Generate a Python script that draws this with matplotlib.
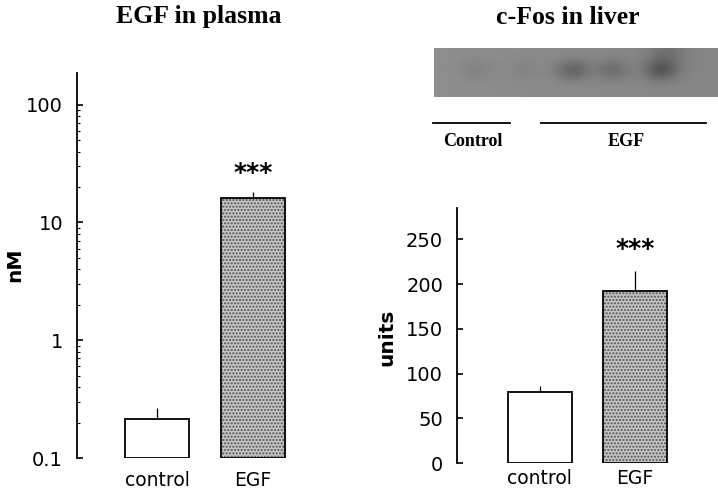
import numpy as np
import matplotlib
matplotlib.use("Agg")
import matplotlib.pyplot as plt
from matplotlib.lines import Line2D
from matplotlib.ticker import LogLocator, NullFormatter, FixedLocator

# ---------------- data ----------------
categories = ["control", "EGF"]
plasma_egf_nM = [0.214, 16.0]
plasma_egf_err = [0.052, 2.3]
plasma_ticks = [0.1, 1, 10, 100]
plasma_ticklabels = ["0.1", "1", "10", "100"]

liver_cfos_units = [79, 192]
liver_cfos_err = [7, 23]
liver_ticks = [0, 50, 100, 150, 200, 250]

# blot lanes (relative position across strip, darkness)
blot_lane_pos = [0.15, 0.32, 0.49, 0.63, 0.80]
blot_lane_dark = [0.04, 0.03, 0.14, 0.10, 0.17]

W, H = 718, 490
fig = plt.figure(figsize=(W / 100, H / 100), dpi=100)

def fx(px):
    return px / W

def fy(py):
    return 1 - py / H

serif = "Liberation Serif"
sans = "DejaVu Sans"

def draw_bars(ax, vals, errs, base):
    x = np.arange(len(vals))
    faces = ["white", "#c4c4c4"]
    hatches = [None, "....."]
    for i in range(len(vals)):
        ax.bar(x[i], vals[i] - base, width=0.67, bottom=base,
               color=faces[i], hatch=hatches[i], edgecolor="#505050", linewidth=0, zorder=2)
        ax.bar(x[i], vals[i] - base, width=0.67, bottom=base,
               fill=False, edgecolor="black", linewidth=1.3, zorder=3)
    ax.errorbar(x, vals, yerr=[[0] * len(vals), errs], fmt="none", ecolor="black",
                elinewidth=0.9, capsize=0, zorder=1)

def style_axes(ax, xpad):
    for s in ["top", "right", "bottom"]:
        ax.spines[s].set_visible(False)
    ax.spines["left"].set_linewidth(1.3)
    ax.tick_params(axis="y", direction="in", length=4, width=1.2, labelsize=14, pad=10)
    ax.tick_params(axis="x", length=0, labelsize=13.5, pad=xpad)
    ax.set_xticks(range(len(categories)))
    ax.set_xticklabels(categories, family=sans)

# ---------------- left panel ----------------
axL = fig.add_axes([fx(77), fy(458), fx(301 - 77), fy(73) - fy(458)])
axL.set_yscale("log")
axL.set_ylim(0.1, 186)
axL.set_xlim(-0.833, 1.5)
draw_bars(axL, plasma_egf_nM, plasma_egf_err, 0.1)
style_axes(axL, 9)
axL.yaxis.set_major_locator(FixedLocator(plasma_ticks))
axL.set_yticklabels(plasma_ticklabels, family=sans)
axL.yaxis.set_minor_locator(LogLocator(base=10, subs=np.arange(2, 10)))
axL.yaxis.set_minor_formatter(NullFormatter())
axL.tick_params(axis="y", which="minor", direction="in", length=2, width=0.8)
fig.text(fx(15), fy(265), "nM", rotation=90, ha="center", va="center",
         family=sans, fontsize=14.5, fontweight="bold")
axL.text(1, (plasma_egf_nM[1] + plasma_egf_err[1]) * 1.45, "***", ha="center", va="center",
         fontsize=18, fontweight="bold", family=sans)

fig.text(fx(199), fy(17), "EGF in plasma", ha="center", va="center",
         family=serif, fontweight="bold", fontsize=18.5)

# ---------------- right panel ----------------
axR = fig.add_axes([fx(457), fy(463), fx(683 - 457), fy(208) - fy(463)])
axR.set_ylim(0, 285)
axR.set_xlim(-0.864, 1.5)
draw_bars(axR, liver_cfos_units, liver_cfos_err, 0)
style_axes(axR, 4)
axR.set_yticks(liver_ticks)
axR.set_yticklabels([str(t) for t in liver_ticks], family=sans)
fig.text(fx(387), fy(337), "units", rotation=90, ha="center", va="center",
         family=sans, fontsize=14.5, fontweight="bold")
axR.text(1, liver_cfos_units[1] + liver_cfos_err[1] + 24, "***", ha="center", va="center",
         fontsize=18, fontweight="bold", family=sans)

fig.text(fx(568), fy(17), "c-Fos in liver", ha="center", va="center",
         family=serif, fontweight="bold", fontsize=18.5)

# ---------------- blot strip ----------------
axB = fig.add_axes([fx(434), fy(97), fx(718 - 434), fy(48) - fy(97)])
nx, ny = 284, 49
xx = np.linspace(0, 1, nx)[None, :]
yy = np.linspace(0, 1, ny)[:, None]
img = np.full((ny, nx), 0.56)
img -= 0.04 * xx  # slightly darker towards right
for p, d in zip(blot_lane_pos, blot_lane_dark):
    img -= d * np.exp(-((xx - p) / 0.06) ** 2 - ((yy - 0.45) / 0.22) ** 2)
img -= 0.08 * np.exp(-((xx - 0.82) / 0.07) ** 2 - ((yy - 0.1) / 0.3) ** 2)
axB.imshow(img, cmap="gray", vmin=0, vmax=1, aspect="auto", interpolation="bilinear")
axB.set_axis_off()

fig.add_artist(Line2D([fx(433), fx(510)], [fy(123), fy(123)], color="black", lw=1.3))
fig.add_artist(Line2D([fx(541), fx(706)], [fy(123), fy(123)], color="black", lw=1.3))
fig.text(fx(473), fy(142), "Control", ha="center", va="center", family=serif,
         fontweight="bold", fontsize=13)
fig.text(fx(626), fy(142), "EGF", ha="center", va="center", family=serif,
         fontweight="bold", fontsize=13)

fig.savefig("out.png", dpi=100)
